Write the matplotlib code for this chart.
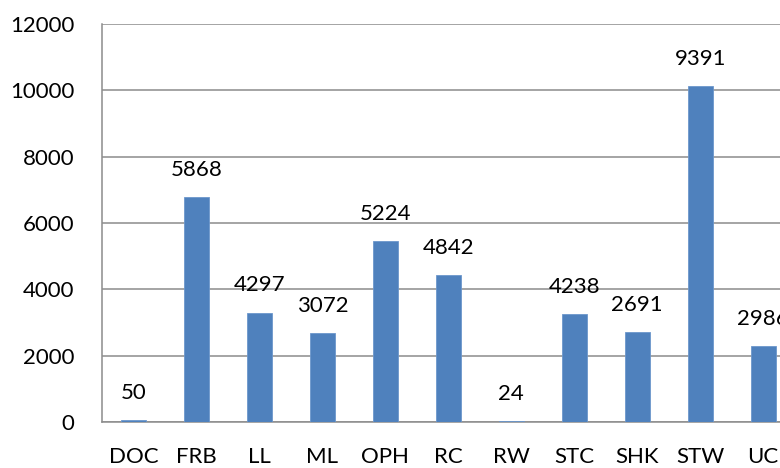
import matplotlib.pyplot as plt

categories = ['DOC', 'FRB', 'LL', 'ML', 'OPH', 'RC', 'RW', 'STC', 'SHK', 'STW', 'UC']
heights = [60, 6780, 3300, 2680, 5460, 4440, 40, 3260, 2710, 10140, 2280]
# numbers printed above the bars
labels = [50, 5868, 4297, 3072, 5224, 4842, 24, 4238, 2691, 9391, 2986]
yticks = [0, 2000, 4000, 6000, 8000, 10000, 12000]

plt.rcParams['font.family'] = ['Lato', 'DejaVu Sans']

fig = plt.figure(figsize=(7.8, 4.68), dpi=100)
ax = fig.add_axes([0.1308, 0.0983, 0.888, 0.8504])

x = range(len(categories))
ax.bar(x, heights, width=0.4, color='#4F81BD', edgecolor='#6C97CC', linewidth=0.6, zorder=3)

for xi, h, lab in zip(x, heights, labels):
    ax.annotate(str(lab), (xi, h), xytext=(0, 19.5), textcoords='offset points',
                ha='center', va='center', fontsize=16, color='black', zorder=4)

ax.set_xlim(-0.5, len(categories) - 0.5)
ax.set_ylim(0, 12000)
ax.set_yticks(yticks)
ax.set_xticks(list(x))
ax.set_xticklabels(categories)
ax.tick_params(axis='both', length=0, labelsize=16, colors='black')
ax.tick_params(axis='x', pad=18)
ax.tick_params(axis='y', pad=20)
ax.yaxis.grid(True, color='#8C8C8C', linewidth=1.1, zorder=0)
ax.set_axisbelow(True)

for side in ['top', 'right']:
    ax.spines[side].set_visible(False)
for side in ['left', 'bottom']:
    ax.spines[side].set_color('#8C8C8C')
    ax.spines[side].set_linewidth(1.1)

fig.savefig('out.png', dpi=100)
